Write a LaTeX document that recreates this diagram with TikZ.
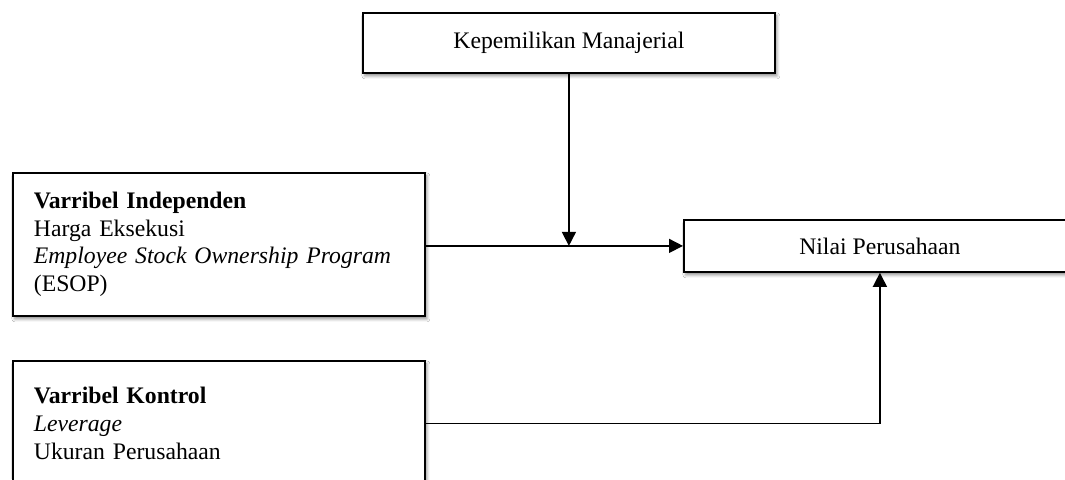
\documentclass[tikz,border=0pt]{standalone}
\usepackage{fontspec}
\setmainfont{Liberation Serif}
\usetikzlibrary{arrows.meta,shadows.blur}
\begin{document}
\begin{tikzpicture}[x=1pt,y=-1pt,
  box/.style={draw=black, line width=1.8pt, fill=white,
    blur shadow={shadow xshift=2pt, shadow yshift=-3pt, shadow blur radius=3pt, shadow opacity=45},
    font=\fontsize{23.7}{27.6}\selectfont, inner sep=0pt},
  leftbox/.style={box, anchor=north west, align=left, text width=370pt, inner xsep=21pt},
  conn/.style={line width=1.5pt, -{Triangle[length=14pt,width=14pt]}}]
\clip (0,0) rectangle (1065,479);
\fill[white] (0,0) rectangle (1065,479);
\node[box, anchor=north west, minimum width=412pt, minimum height=60pt] (km) at (362,12) {Kepemilikan Manajerial};
\node[box, anchor=north west, minimum width=392pt, minimum height=52pt] (nilai) at (683,219) {Nilai Perusahaan};
\node[leftbox, minimum height=143pt] (ind) at (12,172) {\textbf{Varribel Independen}\\Harga Eksekusi\\\textit{Employee Stock Ownership Program}\\(ESOP)};
\node[leftbox, minimum height=125pt] (kon) at (12,360) {\textbf{Varribel Kontrol}\\\textit{Leverage}\\Ukuran Perusahaan};
\draw[conn] (ind.east |- nilai.west) -- (nilai.west);
\draw[conn] (km.south) -- (km.south |- nilai.west);
\draw[conn] (kon.east) -- (kon.east -| nilai.south) -- (nilai.south);
\end{tikzpicture}
\end{document}
